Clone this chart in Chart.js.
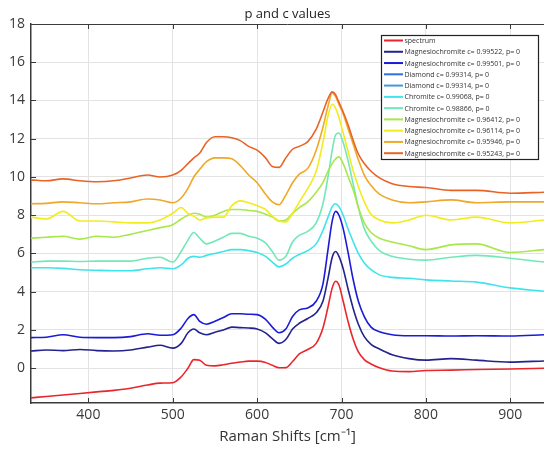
<!DOCTYPE html>
<html><head><meta charset="utf-8">
<script src="https://cdn.jsdelivr.net/npm/chart.js@4"></script>
<style>html,body{margin:0;padding:0;background:#fff;overflow:hidden}#wrap{width:544px;height:455px;position:relative}</style>
</head><body><div id="wrap"><canvas id="c" width="544" height="455"></canvas></div>
<script>
// ---- data ----
const wavenumbers = [332,350,370,390,410,430,450,470,485,500,510,518,525,532,540,550,560,570,580,590,600,610,618,626,634,642,650,660,670,678,684,689,693,697,702,708,714,720,727,735,745,760,780,800,830,860,900,940];
const xTicks = [400,500,600,700,800,900];
const yTicks = [0,2,4,6,8,10,12,14,16,18];
const seriesLabels = [
  'spectrum',
  'Magnesiochromite c= 0.99522, p= 0',
  'Magnesiochromite c= 0.99501, p= 0',
  'Diamond c= 0.99314, p= 0',
  'Diamond c= 0.99314, p= 0',
  'Chromite c= 0.99068, p= 0',
  'Chromite c= 0.98866, p= 0',
  'Magnesiochromite c= 0.96412, p= 0',
  'Magnesiochromite c= 0.96114, p= 0',
  'Magnesiochromite c= 0.95946, p= 0',
  'Magnesiochromite c= 0.95243, p= 0'
];
const spectrum = [-1.55,-1.48,-1.40,-1.32,-1.24,-1.16,-1.05,-0.88,-0.78,-0.76,-0.45,0.0,0.45,0.42,0.15,0.12,0.18,0.26,0.32,0.37,0.37,0.3,0.15,0.02,0.03,0.35,0.75,0.98,1.3,2.1,3.2,4.2,4.55,4.35,3.5,2.4,1.5,0.85,0.45,0.22,0.02,-0.15,-0.18,-0.12,-0.1,-0.07,-0.04,0.0];
const magnesio99522 = [0.9,0.95,0.92,0.98,0.92,0.9,0.95,1.1,1.2,1.05,1.3,1.85,2.05,1.85,1.75,1.88,2.0,2.15,2.12,2.1,2.05,1.85,1.55,1.3,1.5,2.05,2.35,2.6,2.9,3.5,4.7,5.8,6.1,5.85,5.2,4.1,3.1,2.3,1.65,1.25,1.0,0.7,0.5,0.42,0.5,0.42,0.32,0.38];
const magnesio99501 = [1.6,1.62,1.75,1.62,1.6,1.6,1.65,1.8,1.72,1.75,2.1,2.6,2.8,2.45,2.3,2.45,2.65,2.85,2.85,2.82,2.8,2.55,2.15,1.85,2.05,2.7,3.05,3.15,3.5,4.4,6.2,7.7,8.2,8.0,7.3,6.0,4.6,3.5,2.7,2.15,1.9,1.75,1.7,1.7,1.68,1.7,1.68,1.75];
const diamondA = [];
const diamondB = [];
const chromite99068 = [5.25,5.25,5.22,5.15,5.12,5.1,5.1,5.2,5.25,5.2,5.4,5.75,5.85,5.8,5.9,6.0,6.1,6.2,6.2,6.15,6.05,5.85,5.55,5.3,5.45,5.75,5.95,6.15,6.5,7.2,7.9,8.45,8.6,8.45,8.0,7.25,6.6,6.0,5.5,5.15,4.88,4.75,4.7,4.62,4.56,4.5,4.2,4.02];
const chromite98866 = [5.55,5.6,5.6,5.58,5.6,5.6,5.6,5.75,5.8,5.55,6.1,6.7,7.1,6.8,6.5,6.65,6.85,7.05,7.05,6.9,6.8,6.55,6.1,5.65,5.85,6.6,6.95,7.15,7.6,8.6,10.0,11.4,12.2,12.3,11.8,10.8,9.6,8.4,7.3,6.65,6.15,5.85,5.7,5.65,5.8,5.9,5.75,5.55];
const magnesio96412 = [6.8,6.85,6.9,6.75,6.9,6.85,7.0,7.2,7.35,7.5,7.8,8.0,8.1,8.05,7.9,8.0,8.2,8.3,8.3,8.25,8.2,8.05,7.9,7.7,7.75,8.1,8.4,8.7,9.2,9.7,10.3,10.7,10.95,11.05,10.7,10.0,9.3,8.4,7.6,7.1,6.8,6.6,6.4,6.2,6.45,6.5,6.05,6.2];
const magnesio96114 = [7.9,7.8,8.2,7.7,7.7,7.65,7.6,7.6,7.75,8.1,8.4,8.1,7.95,7.75,7.85,7.9,7.9,8.5,8.75,8.65,8.5,8.3,7.95,7.7,7.65,8.1,8.7,9.4,10.3,11.8,13.2,13.8,13.6,13.1,12.3,11.3,10.3,9.5,8.7,8.05,7.75,7.6,7.75,8.0,7.75,7.9,7.6,7.75];
const magnesio95946 = [8.6,8.62,8.7,8.65,8.6,8.65,8.7,8.85,8.8,8.65,8.9,9.4,10.0,10.4,10.8,11.0,11.0,10.95,10.6,10.1,9.7,9.1,8.7,8.55,9.05,9.7,10.15,10.45,11.4,12.6,13.7,14.4,14.2,13.8,13.3,12.5,11.7,10.9,10.1,9.55,9.1,8.8,8.65,8.7,8.8,8.65,8.7,8.7];
const magnesio95243 = [9.85,9.8,9.9,9.8,9.75,9.8,9.95,10.1,10.0,10.1,10.35,10.7,11.0,11.25,11.8,12.1,12.1,12.05,11.9,11.6,11.4,11.0,10.55,10.5,11.0,11.45,11.6,11.85,12.5,13.4,14.1,14.45,14.3,13.9,13.4,12.7,11.9,11.2,10.7,10.3,9.95,9.65,9.5,9.45,9.3,9.3,9.15,9.2];
const seriesValues = [spectrum,magnesio99522,magnesio99501,diamondA,diamondB,chromite99068,chromite98866,magnesio96412,magnesio96114,magnesio95946,magnesio95243];
const seriesColors = ['#e8262b','#23238f','#1a1ad8','#2f6fe0','#3f9ad8','#3fe4ea','#72e8b8','#a8e84a','#f2ec1e','#f0a828','#ea6326'];

// ---- chart ----
const datasets = seriesValues.map((vals, i) => ({
  label: seriesLabels[i],
  data: vals.map((v, j) => ({x: wavenumbers[j], y: v})),
  borderColor: seriesColors[i],
  backgroundColor: seriesColors[i],
  borderWidth: 1.6,
  pointRadius: 0,
  fill: false,
  cubicInterpolationMode: 'monotone',
  order: seriesValues.length - i
}));

const AXIS = '#3a3a3a';
const frame = {
  id: 'frame',
  afterDraw(chart) {
    const {ctx, chartArea: a, scales: {x, y}} = chart;
    ctx.save();
    ctx.strokeStyle = AXIS; ctx.lineWidth = 1;
    ctx.beginPath();
    ctx.moveTo(a.left, a.top + 0.5); ctx.lineTo(a.right, a.top + 0.5);
    xTicks.forEach(v => {
      const px = Math.round(x.getPixelForValue(v)) + 0.5;
      ctx.moveTo(px, a.bottom); ctx.lineTo(px, a.bottom - 5);
      ctx.moveTo(px, a.top); ctx.lineTo(px, a.top + 5);
    });
    yTicks.forEach(v => {
      const py = Math.round(y.getPixelForValue(v)) + 0.5;
      ctx.moveTo(a.left, py); ctx.lineTo(a.left + 5, py);
    });
    ctx.stroke();
    // legend
    const lx = 381.5, ly = 35.5, lw = 157, lh = 124;
    ctx.fillStyle = '#fff';
    ctx.fillRect(lx, ly, lw, lh);
    ctx.strokeStyle = '#222'; ctx.lineWidth = 1.2;
    ctx.strokeRect(lx, ly, lw, lh);
    ctx.font = '7px "Open Sans"';
    ctx.textBaseline = 'middle';
    chart.data.datasets.forEach((ds, i) => {
      const yy = 40.5 + i * 11.27;
      ctx.strokeStyle = ds.borderColor; ctx.lineWidth = 2;
      ctx.beginPath(); ctx.moveTo(384, yy); ctx.lineTo(403, yy); ctx.stroke();
      ctx.fillStyle = '#333';
      ctx.fillText(ds.label, 404.5, yy + 0.5);
    });
    ctx.restore();
  }
};

new Chart(document.getElementById('c'), {
  type: 'line',
  data: {datasets},
  options: {
    responsive: false,
    animation: false,
    devicePixelRatio: 1,
    parsing: true,
    layout: {padding: 0},
    plugins: {
      legend: {display: false},
      tooltip: {enabled: false},
      title: {
        display: true, text: 'p and c values', fullSize: false,
        color: '#222', padding: {top: 6, bottom: 2.4},
        font: {family: 'Open Sans', size: 13, weight: 'normal', lineHeight: 1.2}
      }
    },
    scales: {
      x: {
        type: 'linear', min: 332, max: 940,
        afterBuildTicks: s => { s.ticks = xTicks.map(v => ({value: v})); },
        afterFit: s => { s.height = 52; },
        grid: {color: '#e3e3e3', lineWidth: 1, drawTicks: false},
        border: {color: AXIS, width: 1.5},
        ticks: {autoSkip: false, maxRotation: 0, padding: 4, color: AXIS, font: {family: 'Open Sans', size: 14}},
        title: {display: true, text: 'Raman Shifts [cm⁻¹]', color: '#333', padding: {top: 0, bottom: 9}, font: {family: 'Open Sans', size: 15, lineHeight: 1.2}}
      },
      y: {
        type: 'linear', min: -1.82, max: 18,
        afterBuildTicks: s => { s.ticks = yTicks.map(v => ({value: v})); },
        afterFit: s => { s.width = 31; },
        grid: {color: '#e3e3e3', lineWidth: 1, drawTicks: false},
        border: {color: AXIS, width: 1.5},
        ticks: {autoSkip: false, padding: 6, color: AXIS, font: {family: 'Open Sans', size: 14}}
      }
    }
  },
  plugins: [frame]
});
</script>
</body></html>
